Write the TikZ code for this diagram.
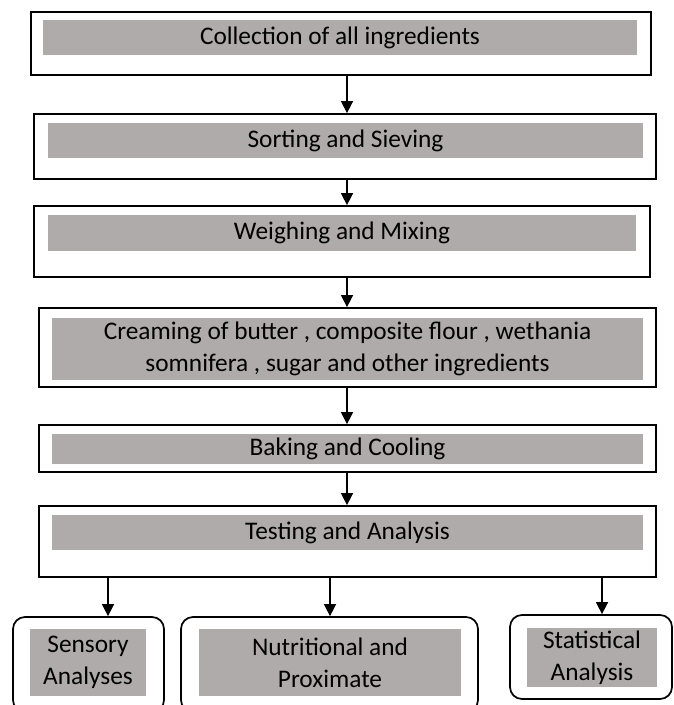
\documentclass[tikz,border=0pt]{standalone}
\usepackage{fontspec}
\setmainfont{Carlito}
\usetikzlibrary{arrows.meta}

\begin{document}
\begin{tikzpicture}[x=0.75pt,y=-0.75pt,
  stage/.style={draw,line width=1.3pt,inner sep=0pt},
  endbox/.style={draw,line width=1.3pt,rounded corners=9pt,inner sep=0pt},
  bar/.style={fill=bargray,inner sep=0pt,align=center,
    font=\fontsize{19}{24}\selectfont},
  flow/.style={-{Triangle[width=9pt,length=9pt]},line width=1.1pt}]
  \definecolor{bargray}{RGB}{175,171,171}

  \clip (0,0) rectangle (673,705);

  % ---- process stages (outer frames) ----
  \node[stage,minimum width=465pt,minimum height=47.25pt] (b1) at (341,43.5) {};
  \node[stage,minimum width=466.5pt,minimum height=48.75pt] (b2) at (345,146.5) {};
  \node[stage,minimum width=462pt,minimum height=53.25pt] (b3) at (342,241.5) {};
  \node[stage,minimum width=462.75pt,minimum height=59.25pt] (b4) at (347.5,347.5) {};
  \node[stage,minimum width=462.75pt,minimum height=35.25pt] (b5) at (347.5,448.5) {};
  \node[stage,minimum width=462.75pt,minimum height=53.25pt] (b6) at (347.5,541.5) {};

  % gray bars with the stage texts
  \node[bar,minimum width=445.5pt,minimum height=26.25pt] (t1) at (340,37.5)
    {Collection of all ingredients};
  \node[bar,minimum width=446.25pt,minimum height=26.25pt] (t2) at (345.5,140.5)
    {Sorting and Sieving};
  \node[bar,minimum width=441pt,minimum height=27pt] (t3) at (342,233)
    {Weighing and Mixing};
  \node[bar,minimum width=443.25pt,minimum height=46.5pt] (t4) at (347.5,349)
    {Creaming of butter , composite flour , wethania\\somnifera , sugar and other ingredients};
  \node[bar,minimum width=443.25pt,minimum height=22.5pt] (t5) at (347.5,449)
    {Baking and Cooling};
  \node[bar,minimum width=443.25pt,minimum height=26.25pt] (t6) at (347.5,532.5)
    {Testing and Analysis};

  % ---- analyses (rounded frames) ----
  \node[endbox,minimum width=113.25pt,minimum height=71.25pt] (sens) at (88.5,664.5) {};
  \node[endbox,minimum width=222.75pt,minimum height=71.25pt] (nutr) at (329.5,664.5) {};
  \node[endbox,minimum width=121.5pt,minimum height=63pt] (stat) at (591,657) {};
  \node[bar,minimum width=87pt,minimum height=50.25pt] (ts) at (88,662.5)
    {Sensory\\Analyses};
  \node[bar,minimum width=196.5pt,minimum height=50.25pt] (tn) at (330,662.5)
    {Nutritional and\\Proximate};
  \node[bar,minimum width=97.5pt,minimum height=44.25pt] (tst) at (592,657.5)
    {Statistical\\Analysis};

  % ---- arrows ----
  \coordinate (ax) at (347,0);
  \coordinate (sx) at (108,0);
  \coordinate (nx) at (330,0);
  \coordinate (rx) at (602,0);
  \draw[flow] (b1.south -| ax) -- (b2.north -| ax);
  \draw[flow] (b2.south -| ax) -- (b3.north -| ax);
  \draw[flow] (b3.south -| ax) -- (b4.north -| ax);
  \draw[flow] (b4.south -| ax) -- (b5.north -| ax);
  \draw[flow] (b5.south -| ax) -- (b6.north -| ax);
  \draw[flow] (b6.south -| sx) -- (sens.north -| sx);
  \draw[flow] (b6.south -| nx) -- (nutr.north -| nx);
  \draw[flow] (b6.south -| rx) -- (stat.north -| rx);
\end{tikzpicture}
\end{document}
